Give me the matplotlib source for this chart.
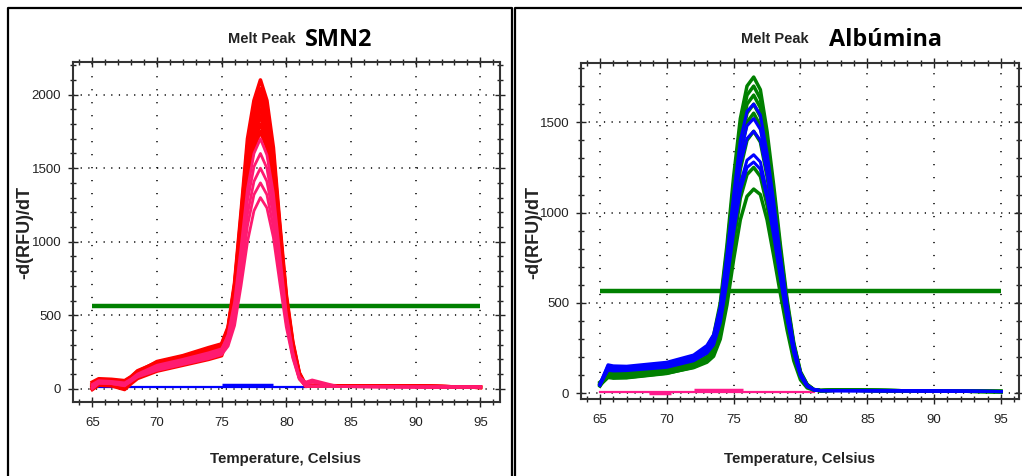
import matplotlib
matplotlib.use('Agg')
import matplotlib.pyplot as plt
from matplotlib.ticker import MultipleLocator
from matplotlib.lines import Line2D

# ---- SMN2 panel (left) ----
temp_smn2 = [65.0, 65.5, 66.5, 67.5, 68.0, 68.5, 70.0, 72.0, 74.0, 75.0, 75.5, 76.0, 76.5, 77.0,
             77.5, 78.0, 78.5, 79.0, 79.5, 80.0, 80.5, 81.0, 81.5, 82.0, 84.0, 89.5, 95.0]
smn2_red = [
    [25, 55, 50, 45, 75, 110, 185, 225, 280, 305, 420, 720, 1200, 1700, 1960, 2100, 1960, 1640, 1120, 640, 320, 110, 25, 22, 20, 18, 10],
    [10, 45, 42, 35, 65, 100, 170, 212, 262, 292, 405, 700, 1170, 1650, 1910, 2040, 1900, 1590, 1090, 620, 310, 105, 24, 22, 20, 18, 10],
    [35, 62, 58, 50, 80, 118, 180, 218, 272, 300, 410, 690, 1140, 1610, 1860, 1990, 1860, 1560, 1070, 600, 300, 100, 22, 22, 20, 18, 10],
    [0, 35, 30, 10, 45, 80, 140, 180, 225, 255, 385, 660, 1110, 1570, 1820, 1950, 1820, 1520, 1040, 580, 290, 95, 20, 20, 18, 18, 10],
    [15, 50, 48, 40, 68, 102, 160, 200, 245, 275, 390, 650, 1080, 1530, 1780, 1900, 1770, 1480, 1010, 560, 280, 90, 20, 20, 18, 18, 10],
    [45, 68, 64, 55, 82, 122, 178, 220, 270, 300, 400, 640, 1050, 1490, 1740, 1850, 1730, 1440, 990, 550, 270, 90, 20, 20, 18, 18, 10],
    [-5, 25, 20, -5, 35, 70, 120, 160, 200, 225, 360, 600, 1010, 1440, 1690, 1800, 1680, 1400, 960, 540, 260, 85, 18, 20, 18, 18, 10],
    [20, 50, 45, 30, 60, 92, 150, 190, 235, 262, 365, 590, 980, 1400, 1640, 1750, 1640, 1360, 930, 520, 255, 85, 18, 20, 18, 18, 10],
]
smn2_pink = [
    [10, 42, 40, 28, 60, 95, 150, 190, 232, 258, 370, 590, 960, 1360, 1600, 1700, 1590, 1330, 910, 510, 250, 80, 45, 60, 15, 12, 12],
    [30, 55, 50, 40, 66, 100, 160, 200, 245, 272, 360, 560, 900, 1280, 1510, 1600, 1500, 1250, 860, 490, 240, 80, 30, 45, 15, 12, 12],
    [0, 38, 35, 20, 55, 85, 135, 172, 212, 240, 330, 510, 840, 1190, 1410, 1500, 1410, 1180, 820, 470, 230, 75, 18, 18, 15, 12, 12],
    [20, 50, 45, 35, 62, 92, 145, 185, 225, 250, 320, 480, 780, 1110, 1320, 1400, 1320, 1100, 770, 450, 220, 70, 18, 18, 15, 12, 12],
    [5, 38, 35, 22, 50, 80, 125, 165, 205, 232, 290, 430, 700, 1000, 1210, 1300, 1230, 1030, 720, 420, 210, 65, 18, 18, 15, 12, 12],
]
smn2_blue_temp = [65.0, 81.5]
smn2_blue = [12, 12]
smn2_blue_hump_temp = [75.0, 79.0]
smn2_blue_hump = [24, 24]
smn2_threshold = 560

# ---- Albumina panel (right) ----
temp_alb = [65.0, 65.6, 66.0, 67.0, 70.0, 72.0, 73.0, 73.5, 74.0, 74.5, 75.0, 75.5, 76.0, 76.5,
            77.0, 77.5, 78.0, 78.5, 79.0, 79.5, 80.0, 80.5, 81.0, 81.5, 83.0, 88.0, 95.0]
alb_green = [
    [50, 125, 120, 122, 150, 200, 255, 320, 500, 820, 1200, 1520, 1700, 1750, 1680, 1450, 1150, 820, 520, 280, 120, 50, 22, 15, 18, 14, 10],
    [40, 112, 108, 112, 140, 190, 245, 305, 480, 790, 1160, 1470, 1650, 1700, 1630, 1400, 1110, 790, 500, 270, 115, 48, 20, 15, 18, 14, 10],
    [58, 100, 96, 100, 128, 175, 230, 290, 455, 750, 1110, 1420, 1600, 1650, 1580, 1360, 1080, 770, 490, 265, 110, 45, 20, 15, 18, 14, 10],
    [45, 108, 104, 108, 135, 182, 238, 295, 450, 730, 1070, 1380, 1550, 1600, 1530, 1320, 1050, 750, 480, 260, 108, 44, 20, 15, 18, 14, 10],
    [52, 92, 88, 92, 118, 158, 205, 255, 400, 670, 1000, 1310, 1500, 1550, 1480, 1280, 1010, 720, 460, 250, 105, 42, 20, 15, 18, 14, 10],
    [62, 98, 94, 96, 120, 158, 200, 245, 380, 630, 950, 1240, 1400, 1450, 1390, 1200, 950, 680, 440, 240, 100, 40, 20, 15, 18, 14, 10],
    [45, 88, 84, 86, 110, 145, 182, 220, 330, 550, 830, 1080, 1210, 1250, 1200, 1040, 830, 600, 390, 215, 90, 36, 20, 15, 18, 14, 10],
    [50, 92, 88, 88, 112, 142, 172, 205, 300, 490, 740, 960, 1090, 1130, 1100, 960, 760, 550, 350, 180, 75, 30, 18, 15, 18, 14, 10],
]
alb_blue = [
    [50, 158, 152, 150, 172, 212, 265, 325, 480, 770, 1100, 1400, 1560, 1600, 1540, 1330, 1060, 760, 490, 265, 112, 45, 20, 15, 15, 14, 10],
    [45, 145, 140, 140, 160, 200, 250, 305, 455, 725, 1050, 1330, 1480, 1520, 1460, 1270, 1010, 730, 470, 255, 108, 44, 20, 15, 15, 14, 10],
    [55, 150, 146, 144, 164, 204, 256, 310, 445, 705, 1010, 1270, 1410, 1450, 1400, 1220, 970, 700, 455, 248, 105, 43, 20, 15, 15, 14, 10],
    [45, 135, 131, 132, 150, 188, 232, 280, 405, 640, 920, 1160, 1290, 1320, 1280, 1110, 890, 650, 420, 232, 98, 40, 20, 15, 15, 14, 10],
    [50, 128, 124, 126, 144, 180, 222, 268, 390, 615, 890, 1120, 1250, 1280, 1240, 1080, 870, 635, 410, 225, 95, 38, 20, 15, 15, 14, 10],
]
alb_pink_temp = [65.0, 81.0]
alb_pink = [8, 8]
alb_pink_humps = [([68.7, 70.3], [3, 3]), ([72.0, 75.7], [20, 20])]
alb_threshold = 565

narrow = ['Liberation Sans', 'DejaVu Sans']
RED = '#ff0000'
PINK = '#ff1a70'
GREEN = '#008000'
BLUE = '#0000ff'


def style_axes(ax, xlim, ylim):
    ax.set_xlim(*xlim)
    ax.set_ylim(*ylim)
    ax.xaxis.set_major_locator(MultipleLocator(5))
    ax.xaxis.set_minor_locator(MultipleLocator(1))
    ax.yaxis.set_major_locator(MultipleLocator(500))
    ax.yaxis.set_minor_locator(MultipleLocator(100))
    ax.tick_params(which='both', direction='inout', top=True, right=True,
                   color='#222222', width=1.0, labelsize=9.5, labelcolor='#222222')
    ax.tick_params(which='major', length=7)
    ax.tick_params(which='minor', length=4)
    ax.tick_params(axis='x', which='major', pad=7)
    ax.tick_params(axis='y', which='major', pad=5)
    for lab in ax.get_xticklabels() + ax.get_yticklabels():
        lab.set_family(narrow)
    for s in ax.spines.values():
        s.set_linewidth(1.5)
        s.set_color('#333333')
    ax.grid(True, axis='y', color='black', linewidth=1.1, linestyle=(0, (0.8, 4.2)))
    ax.grid(True, axis='x', color='black', linewidth=1.1, linestyle=(0, (0.8, 7.7)))
    ax.set_axisbelow(True)


fig = plt.figure(figsize=(10.22, 4.76), dpi=100)
W, H = 1022.0, 476.0

# left panel
ax1 = fig.add_axes([73 / W, 1 - 402 / H, 427 / W, 340 / H])
ax1.plot([65, 95], [smn2_threshold, smn2_threshold], color=GREEN, lw=3.2, solid_capstyle='butt')
ax1.plot(smn2_blue_temp, smn2_blue, color=BLUE, lw=1.6)
ax1.plot(smn2_blue_hump_temp, smn2_blue_hump, color=BLUE, lw=2.5, solid_capstyle='butt')
for v in smn2_red:
    ax1.plot(temp_smn2, v, color=RED, lw=2.6)
for v in smn2_pink:
    ax1.plot(temp_smn2, v, color=PINK, lw=2.0)
style_axes(ax1, (63.51, 96.52), (-90, 2222))

# right panel
ax2 = fig.add_axes([581 / W, 1 - 399.3 / H, 438 / W, 336 / H])
ax2.plot([65, 95], [alb_threshold, alb_threshold], color=GREEN, lw=3.2, solid_capstyle='butt')
ax2.plot(alb_pink_temp, alb_pink, color='#ff1a8c', lw=1.6)
for t, v in alb_pink_humps:
    ax2.plot(t, v, color='#ff1a8c', lw=2.5, solid_capstyle='butt')
for v in alb_green:
    ax2.plot(temp_alb, v, color=GREEN, lw=2.5)
for v in alb_blue:
    ax2.plot(temp_alb, v, color=BLUE, lw=2.2)
style_axes(ax2, (63.58, 96.35), (-33, 1826))

# panel borders
for x0, x1 in [(8, 512), (515, 1030)]:
    xs = [x0 / W, x0 / W, x1 / W, x1 / W]
    ys = [-0.1, 1 - 8 / H, 1 - 8 / H, -0.1]
    fig.add_artist(Line2D(xs, ys, color='black', lw=1.6, transform=fig.transFigure))

# titles and labels
for mx, name, nx, ny in [(228, 'SMN2', 305, 46.5), (741, 'Albúmina', 829, 45.7)]:
    fig.text(mx / W, 1 - 43.3 / H, 'Melt Peak', family=narrow, fontsize=10.5,
             fontweight='bold', color='#222222', ha='left', va='baseline')
    fig.text(nx / W, 1 - ny / H, name, family=['Open Sans', 'DejaVu Sans'], fontsize=16.8,
             fontweight='bold', color='black', ha='left', va='baseline')

for cx in [285.5, 800]:
    fig.text(cx / W, 1 - 462.7 / H, 'Temperature, Celsius', family=narrow, fontsize=10.8,
             fontweight='bold', color='#222222', ha='center', va='baseline')
for cx in [25, 534]:
    fig.text(cx / W, 1 - 232 / H, '-d(RFU)/dT', family=['Liberation Sans', 'DejaVu Sans'],
             fontsize=13, fontweight='bold', color='#222222', rotation=90,
             ha='center', va='center')

plt.savefig('out.png', dpi=100)
